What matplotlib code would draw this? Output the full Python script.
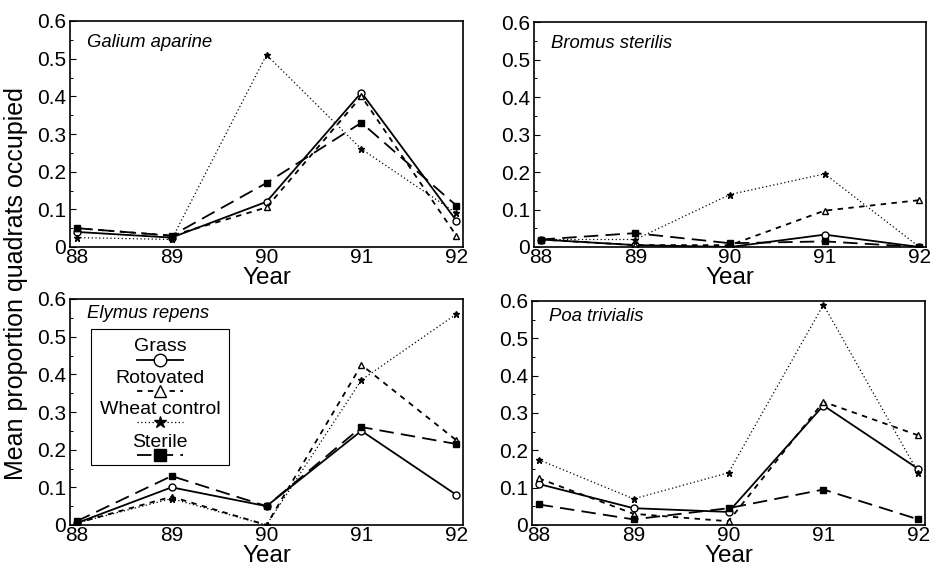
import matplotlib
matplotlib.use("Agg")
from matplotlib import pyplot as plt
from matplotlib.lines import Line2D
from matplotlib.patches import Rectangle
from matplotlib.ticker import MultipleLocator, FuncFormatter

plt.rcParams['font.family'] = ['Liberation Sans', 'DejaVu Sans']

years = [88, 89, 90, 91, 92]
treatments = ['Grass', 'Rotovated', 'Wheat control', 'Sterile']

# mean proportion of quadrats occupied, per species and treatment
galium = {
    'Grass': [0.04, 0.025, 0.12, 0.41, 0.07],
    'Rotovated': [0.05, 0.03, 0.105, 0.40, 0.03],
    'Wheat control': [0.025, 0.02, 0.51, 0.26, 0.09],
    'Sterile': [0.05, 0.03, 0.17, 0.33, 0.11],
}
bromus = {
    'Grass': [0.02, 0.005, 0.0, 0.033, 0.0],
    'Rotovated': [0.02, 0.005, 0.005, 0.097, 0.125],
    'Wheat control': [0.02, 0.02, 0.14, 0.195, 0.0],
    'Sterile': [0.02, 0.037, 0.01, 0.015, 0.0],
}
elymus = {
    'Grass': [0.005, 0.10, 0.05, 0.25, 0.08],
    'Rotovated': [0.005, 0.075, 0.0, 0.425, 0.225],
    'Wheat control': [0.005, 0.07, 0.0, 0.385, 0.56],
    'Sterile': [0.01, 0.13, 0.05, 0.26, 0.215],
}
poa = {
    'Grass': [0.11, 0.045, 0.035, 0.32, 0.15],
    'Rotovated': [0.125, 0.03, 0.01, 0.33, 0.24],
    'Wheat control': [0.175, 0.07, 0.14, 0.59, 0.14],
    'Sterile': [0.055, 0.015, 0.045, 0.095, 0.015],
}

styles = {
    'Grass': dict(ls='-', lw=1.3, marker='o', ms=5, mfc='white', mec='black'),
    'Rotovated': dict(ls=(0, (3, 3)), lw=1.3, marker='^', ms=5, mfc='white', mec='black'),
    'Wheat control': dict(ls=(0, (1, 2)), lw=0.9, marker='*', ms=5, mfc='black', mec='black'),
    'Sterile': dict(ls=(0, (8, 4)), lw=1.3, marker='s', ms=5, mfc='black', mec='black'),
}


def fmt_y(v, pos):
    return '0' if abs(v) < 1e-9 else f'{v:.1f}'


W, H = 931, 567
fig = plt.figure(figsize=(W / 100, H / 100), dpi=100)
fig.patch.set_facecolor('white')

# name, data, axes box in pixels (left, bottom, right, top), title height
panels = [
    ('Galium aparine', galium, (70, 247, 463, 21), 0.907),
    ('Bromus sterilis', bromus, (534, 247, 926, 22), 0.903),
    ('Elymus repens', elymus, (70, 525, 463, 299), 0.934),
    ('Poa trivialis', poa, (532, 525, 925, 301), 0.929),
]

axes = []
for name, data, (x0, yb, x1, yt), ty in panels:
    ax = fig.add_axes([x0 / W, (H - yb) / H, (x1 - x0) / W, (yb - yt) / H])
    for t in treatments:
        ax.plot(years, data[t], color='black', **styles[t])
    ax.set_xlim(87.93, 92.07)
    ax.set_ylim(0, 0.6)
    ax.set_xticks(years)
    ax.set_xticklabels([str(y) for y in years])
    ax.yaxis.set_major_locator(MultipleLocator(0.1))
    ax.yaxis.set_minor_locator(MultipleLocator(0.05))
    ax.yaxis.set_major_formatter(FuncFormatter(fmt_y))
    ax.tick_params(axis='y', direction='in', length=4, width=0.8, labelsize=15, pad=3)
    ax.tick_params(axis='y', which='minor', direction='in', length=2.5, width=0.7)
    ax.tick_params(axis='x', direction='in', length=0, labelsize=15, pad=1)
    for s in ax.spines.values():
        s.set_linewidth(1.2)
    ax.set_xlabel('Year', fontsize=17.5, labelpad=0)
    ax.text(0.043, ty, name, transform=ax.transAxes, fontsize=13.3,
            style='italic', va='center', ha='left')
    axes.append(ax)

# legend drawn inside the Elymus panel: label above each line sample
lax = axes[2]
lax.add_patch(Rectangle((0.053, 0.264), 0.352, 0.604, transform=lax.transAxes,
                        facecolor='white', edgecolor='black', lw=0.8, zorder=5))
cx = 0.229
text_y = [0.789, 0.648, 0.511, 0.366]
line_y = [0.731, 0.595, 0.454, 0.308]
for t, ty, ly in zip(treatments, text_y, line_y):
    lax.text(cx, ty, t, transform=lax.transAxes, ha='center', va='center',
             fontsize=14, zorder=6)
    st = styles[t]
    lax.add_line(Line2D([cx - 0.058, cx + 0.058], [ly, ly], transform=lax.transAxes,
                        color='black', zorder=6, ls=st['ls'], lw=st['lw']))
    lax.add_line(Line2D([cx], [ly], transform=lax.transAxes, color='black',
                        zorder=7, ls='none', marker=st['marker'], ms=9,
                        mfc=st['mfc'], mec='black'))

fig.text(0.017, 0.5, 'Mean proportion quadrats occupied', rotation=90,
         ha='center', va='center', fontsize=18)

fig.savefig('out.png', dpi=100)
